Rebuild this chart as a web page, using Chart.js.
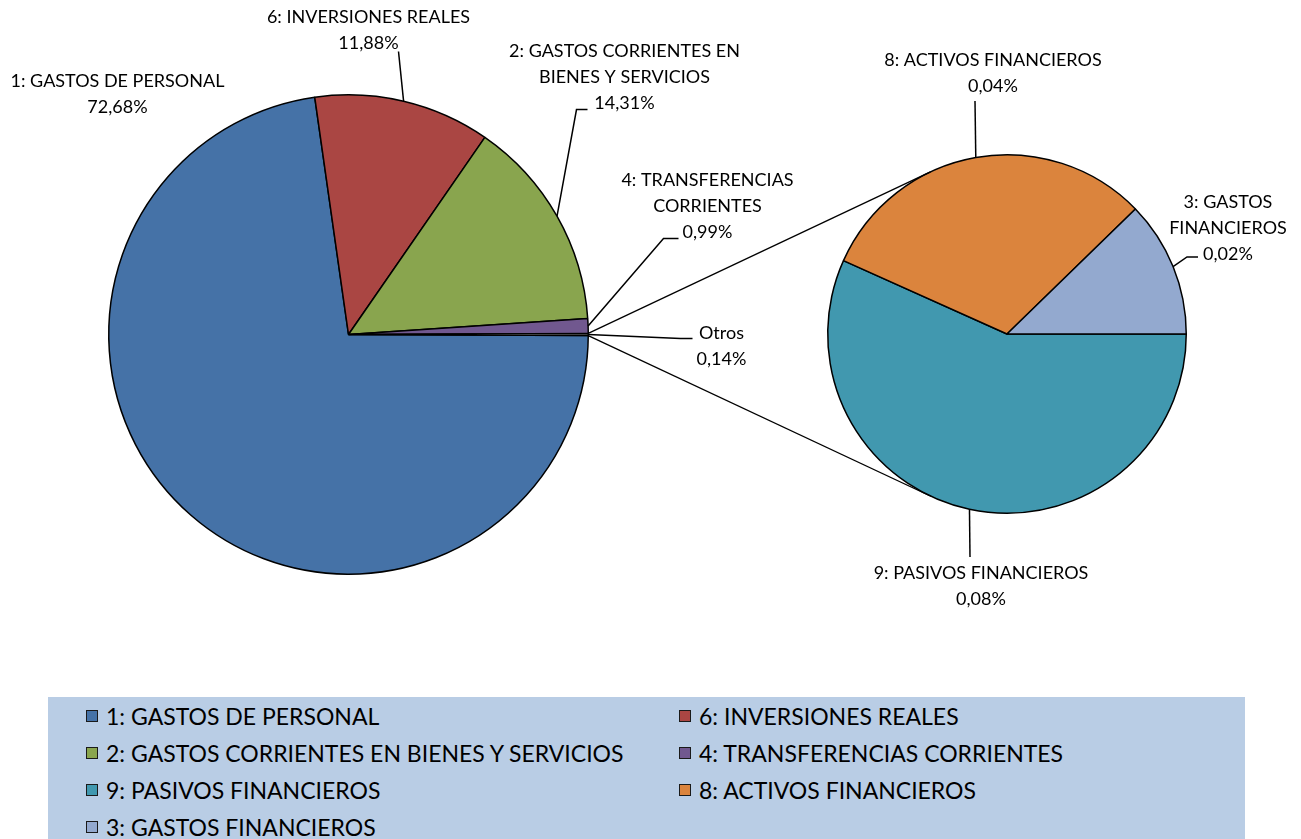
<!DOCTYPE html>
<html><head><meta charset="utf-8">
<script src="https://cdn.jsdelivr.net/npm/chart.js@4.4.0/dist/chart.umd.min.js"></script>
<style>
html,body{margin:0;padding:0;background:#fff;width:1301px;height:839px;overflow:hidden;font-family:Lato,'Open Sans',sans-serif;}
#wrap{position:relative;width:1301px;height:839px;}
canvas{position:absolute;left:0;top:0;}
#legend{position:absolute;left:48px;top:697px;width:1197px;height:160px;background:#B9CDE5;box-sizing:border-box;padding-left:38px;display:grid;grid-template-columns:593px 1fr;grid-auto-rows:37px;}
.item{display:flex;align-items:center;font-size:23px;color:#000;white-space:nowrap;}
.sw{width:10px;height:10px;border:1.5px solid #1a1a1a;margin-right:8px;flex:none;}
</style>
</head><body>
<div id="wrap">
<canvas id="c1" width="1301" height="839"></canvas>
<canvas id="c2" width="1301" height="839"></canvas>
<div id="legend"></div>
</div>
<script>
// ---- data ----
const mainLabels = ['1: GASTOS DE PERSONAL','6: INVERSIONES REALES','2: GASTOS CORRIENTES EN BIENES Y SERVICIOS','4: TRANSFERENCIAS CORRIENTES','Otros'];
const mainValues = [72.68, 11.88, 14.31, 0.99, 0.14];
const mainLabelLines = [['1: GASTOS DE PERSONAL'],['6: INVERSIONES REALES'],['2: GASTOS CORRIENTES EN','BIENES Y SERVICIOS'],['4: TRANSFERENCIAS','CORRIENTES'],['Otros']];
const subLabels = ['9: PASIVOS FINANCIEROS','8: ACTIVOS FINANCIEROS','3: GASTOS FINANCIEROS'];
const subValues = [0.0794, 0.0434, 0.0172];
const subLabelLines = [['9: PASIVOS FINANCIEROS'],['8: ACTIVOS FINANCIEROS'],['3: GASTOS','FINANCIEROS']];
const mainColors = ['#4572A7','#AA4643','#89A54E','#71588F','#FFFFFF'];
const subColors = ['#4198AF','#DB843D','#93A9CF'];

const fmt = v => v.toFixed(2).replace('.', ',') + '%';
const FONT = '18px Lato';

const pieLabels = {
  id: 'pieLabels',
  afterDatasetsDraw(chart, args, opts) {
    const ctx = chart.ctx;
    const arcs = chart.getDatasetMeta(0).data;
    const cx = arcs[0].x, cy = arcs[0].y, R = arcs[0].outerRadius;
    ctx.save();
    ctx.font = FONT;
    ctx.fillStyle = '#000'; ctx.strokeStyle = '#000'; ctx.lineWidth = 1.5;
    ctx.textAlign = 'center'; ctx.textBaseline = 'middle';
    opts.items.forEach((it, i) => {
      const a = arcs[i];
      const mid = (a.startAngle + a.endAngle) / 2;
      const sx = cx + R * Math.cos(mid), sy = cy + R * Math.sin(mid);
      if (it.lead) {
        ctx.beginPath(); ctx.moveTo(sx, sy);
        it.lead.forEach(p => ctx.lineTo(cx + p[0], cy + p[1]));
        ctx.stroke();
      }
      const lines = [...opts.lines[i], fmt(chart.data.datasets[0].data[i])];
      lines.forEach((t, k) => ctx.fillText(t, cx + it.at[0], cy + it.at[1] + k * 26));
    });
    ctx.restore();
  }
};

const otrosHalf = mainValues[4] / 2 / mainValues.reduce((a, b) => a + b, 0) * 360;

const chart1 = new Chart(document.getElementById('c1'), {
  type: 'pie',
  data: { labels: mainLabels, datasets: [{ data: mainValues, backgroundColor: mainColors, borderColor: '#000', borderWidth: 1.5 }] },
  options: {
    responsive: false, animation: false, rotation: 90 + otrosHalf,
    layout: { padding: { left: 108, top: 94, right: 712, bottom: 264 } },
    plugins: {
      legend: { display: false }, tooltip: { enabled: false },
      pieLabels: {
        lines: mainLabelLines,
        items: [
          { at: [-231, -253] },
          { at: [20, -317], lead: [[50, -283]] },
          { at: [276, -283], lead: [[228, -225], [239, -225]] },
          { at: [359, -154], lead: [[315, -96], [330, -96]] },
          { at: [373, -1], lead: [[332, 4], [344, 4]] }
        ]
      }
    }
  },
  plugins: [pieLabels]
});

const connectors = {
  id: 'connectors',
  afterDatasetsDraw(chart) {
    const ctx = chart.ctx;
    const o = chart1.getDatasetMeta(0).data[4];
    const s = chart.getDatasetMeta(0).data[0];
    const C = { x: s.x, y: s.y }, r = s.outerRadius;
    const pts = [o.startAngle, o.endAngle].map(a => ({ x: o.x + o.outerRadius * Math.cos(a), y: o.y + o.outerRadius * Math.sin(a) }));
    pts.sort((p, q) => p.y - q.y);
    ctx.save(); ctx.strokeStyle = '#000'; ctx.lineWidth = 1.3;
    pts.forEach((P, idx) => {
      const d = Math.hypot(P.x - C.x, P.y - C.y);
      const th = Math.atan2(P.y - C.y, P.x - C.x);
      const al = Math.acos(r / d);
      const cands = [th + al, th - al].map(a => ({ x: C.x + r * Math.cos(a), y: C.y + r * Math.sin(a) }));
      cands.sort((p, q) => p.y - q.y);
      const T = idx === 0 ? cands[0] : cands[1];
      ctx.beginPath(); ctx.moveTo(P.x, P.y); ctx.lineTo(T.x, T.y); ctx.stroke();
    });
    ctx.restore();
  }
};

const chart2 = new Chart(document.getElementById('c2'), {
  type: 'pie',
  data: { labels: subLabels, datasets: [{ data: subValues, backgroundColor: subColors, borderColor: '#000', borderWidth: 1.5 }] },
  options: {
    responsive: false, animation: false, rotation: 90,
    layout: { padding: { left: 827, top: 154, right: 114, bottom: 325 } },
    plugins: {
      legend: { display: false }, tooltip: { enabled: false },
      pieLabels: {
        lines: subLabelLines,
        items: [
          { at: [-26, 239], lead: [[-37, 223]] },
          { at: [-14, -274], lead: [[-32, -233]] },
          { at: [221, -132], lead: [[180, -77], [191, -77]] }
        ]
      }
    }
  },
  plugins: [pieLabels, connectors]
});

// ---- HTML legend ----
const legend = document.getElementById('legend');
const legLabels = mainLabels.slice(0, 4).concat(subLabels);
const legColors = mainColors.slice(0, 4).concat(subColors);
legLabels.forEach((t, i) => {
  const d = document.createElement('div'); d.className = 'item';
  const sw = document.createElement('span'); sw.className = 'sw'; sw.style.background = legColors[i];
  d.appendChild(sw); d.appendChild(document.createTextNode(t));
  legend.appendChild(d);
});
</script>
</body></html>
